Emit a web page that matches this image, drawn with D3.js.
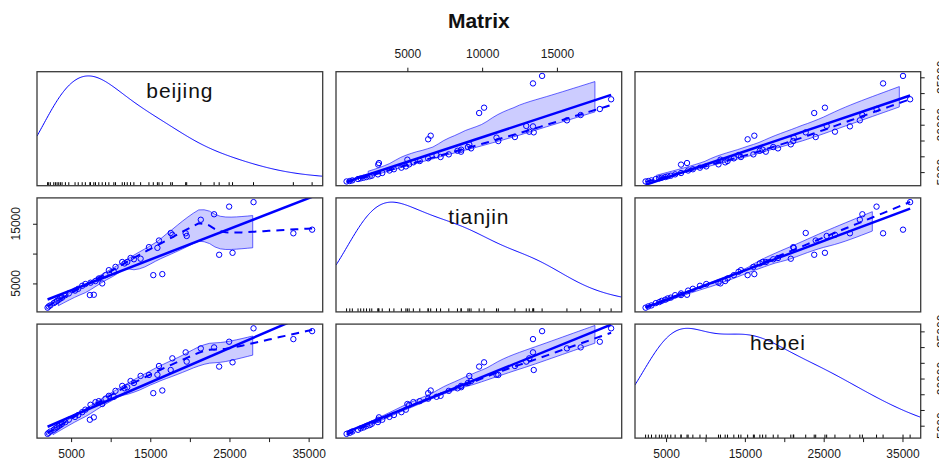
<!DOCTYPE html>
<html>
<head>
<meta charset="utf-8">
<title>Matrix</title>
<script src="https://cdn.jsdelivr.net/npm/d3@7"></script>
<style>
  body { margin: 0; background: #fff; }
  svg text { font-family: "Liberation Sans", Arial, sans-serif; }
</style>
</head>
<body>
<div class="matrix"></div>
<script>
const varNames = ["beijing", "tianjin", "hebei"];

const beijing = [2030, 2170, 2380, 2810, 3020, 3230, 3440, 3650, 3860, 4280, 4710, 5500, 5900, 6400, 6800,
  7370, 7450, 7870, 8080, 8500, 8930, 9350, 9770, 10400, 10610, 11460, 11750, 12090, 12510, 12930,
  13780, 14830, 15380, 15900, 16100, 16520, 17580, 17790, 19470, 19600, 21380, 23060, 23700, 24960,
  25390, 28040, 33070, 35440];
const tianjin = [935, 1150, 1320, 1700, 1880, 2080, 2270, 2480, 2620, 3030, 3320, 3800, 4100, 4600, 4900,
  3050, 5120, 3100, 5400, 5830, 5000, 6390, 7220, 6950, 7770, 8590, 8350, 8600, 9260, 9050,
  9140, 11080, 6390, 10960, 12190, 6560, 13450, 13150, 13400, 12950, 15670, 16590, 9800, 17870,
  10130, 18625, 13400, 14010];
const hebei = [2400, 2750, 3150, 3700, 4150, 4450, 4900, 5200, 5600, 6150, 6900, 7800, 8400, 9300, 10100,
  6900, 11650, 7660, 12500, 12800, 11900, 13600, 14500, 14200, 16080, 17660, 16900, 17250, 19200, 18600,
  20830, 21140, 15350, 21200, 23990, 16200, 22720, 26430, 28330, 25380, 29590, 29910, 23800, 31710,
  25160, 35970, 32540, 35070];

const beijingTicks = [5000, 10000, 15000, 20000, 25000, 30000, 35000];
const tianjinTicks = [5000, 10000, 15000];
const hebeiTicks = [5000, 10000, 15000, 20000, 25000, 30000, 35000];

document.addEventListener("DOMContentLoaded", drawMatrix);

function drawMatrix() {
  const width = 939, height = 461;
  const panelW = 285.7, panelH = 114, gapX = 13.3, gapY = 12.2;
  const left = 37, top = 71.7;
  const blue = "#0000ff";
  const span = 0.6;

  const columns = [beijing, tianjin, hebei];
  const ticks = [beijingTicks, tianjinTicks, hebeiTicks];

  const padded = v => {
    const [lo, hi] = d3.extent(v), r = hi - lo;
    return [lo - 0.04 * r, hi + 0.04 * r];
  };
  const xScales = columns.map(v => d3.scaleLinear().domain(padded(v)).range([0, panelW]));
  const yScales = columns.map(v => d3.scaleLinear().domain(padded(v)).range([panelH, 0]));
  const px = j => left + j * (panelW + gapX);
  const py = i => top + i * (panelH + gapY);

  const svg = d3.select(".matrix").append("svg")
    .attr("width", width)
    .attr("height", height);

  svg.append("defs").append("clipPath").attr("id", "panel-clip")
    .append("rect").attr("width", panelW).attr("height", panelH);

  svg.append("text")
    .attr("x", left + (3 * panelW + 2 * gapX) / 2)
    .attr("y", 28)
    .attr("text-anchor", "middle")
    .attr("font-size", 21)
    .attr("font-weight", "bold")
    .attr("fill", "#111")
    .text("Matrix");

  for (let i = 0; i < 3; i++) {
    for (let j = 0; j < 3; j++) {
      const g = svg.append("g").attr("transform", `translate(${px(j)},${py(i)})`);
      const inner = g.append("g").attr("clip-path", "url(#panel-clip)");
      if (i === j) drawDensity(inner, g, columns[i], xScales[i], varNames[i]);
      else drawScatter(inner, columns[j], columns[i], xScales[j], yScales[i]);
      g.append("rect")
        .attr("width", panelW).attr("height", panelH)
        .attr("fill", "none").attr("stroke", "#3a3a3a").attr("stroke-width", 1.3);
    }
  }

  // axes alternate sides like R pairs()
  horizontalAxis(svg.append("g").attr("transform", `translate(${px(0)},${py(2) + panelH})`), xScales[0], ticks[0], "bottom");
  horizontalAxis(svg.append("g").attr("transform", `translate(${px(2)},${py(2) + panelH})`), xScales[2], ticks[2], "bottom");
  horizontalAxis(svg.append("g").attr("transform", `translate(${px(1)},${py(0)})`), xScales[1], ticks[1], "top");
  verticalAxis(svg.append("g").attr("transform", `translate(${px(0)},${py(1)})`), yScales[1], ticks[1], "left");
  verticalAxis(svg.append("g").attr("transform", `translate(${px(2) + panelW},${py(0)})`), yScales[0], ticks[0], "right");
  verticalAxis(svg.append("g").attr("transform", `translate(${px(2) + panelW},${py(2)})`), yScales[2], ticks[2], "right");

  function horizontalAxis(g, scale, values, orient) {
    const axis = (orient === "bottom" ? d3.axisBottom(scale) : d3.axisTop(scale))
      .tickValues(values).tickSize(4).tickPadding(orient === "bottom" ? 7.5 : 9.5)
      .tickFormat(d3.format("d"));
    g.call(axis);
    g.select(".domain").remove();
    g.attr("font-size", 12).attr("font-family", null).attr("color", "#1a1a1a");
    let lastEnd = -Infinity;
    g.selectAll(".tick text").each(function(d) {
      const w = this.getComputedTextLength(), x = scale(d);
      if (x - w / 2 < lastEnd + 10) d3.select(this).remove();
      else lastEnd = x + w / 2;
    });
  }

  function verticalAxis(g, scale, values, side) {
    const axis = (side === "left" ? d3.axisLeft(scale) : d3.axisRight(scale))
      .tickValues(values).tickSize(4).tickFormat(() => "");
    g.call(axis);
    g.select(".domain").remove();
    g.attr("color", "#1a1a1a");
    const off = side === "left" ? -17 : 25.5;
    let lastEnd = -Infinity;
    values.forEach(v => {
      const y = scale(v);
      const t = g.append("text")
        .attr("transform", `translate(${off},${y}) rotate(-90)`)
        .attr("text-anchor", "middle")
        .attr("font-size", 12)
        .attr("fill", "#1a1a1a")
        .text(v);
      const w = t.node().getComputedTextLength();
      if (-y - w / 2 < lastEnd + 10) t.remove();
      else lastEnd = -y + w / 2;
    });
  }

  function drawDensity(g, frame, values, x, name) {
    const [lo, hi] = x.domain();
    const grid = d3.range(301).map(k => lo + (hi - lo) * k / 300);
    const dens = adaptiveDensity(values, grid);
    const maxD = d3.max(dens, d => d[1]);
    const y = d3.scaleLinear().domain([-0.04 * maxD, 1.04 * maxD]).range([panelH, 0]);

    g.append("path")
      .datum(dens)
      .attr("d", d3.line().x(d => x(d[0])).y(d => y(d[1])))
      .attr("fill", "none")
      .attr("stroke", blue)
      .attr("stroke-width", 1);

    g.append("g").selectAll("line")
      .data(values)
      .enter()
      .append("line")
      .attr("x1", d => x(d)).attr("x2", d => x(d))
      .attr("y1", panelH).attr("y2", panelH - 3.5)
      .attr("stroke", "#000");

    frame.append("text")
      .attr("x", panelW / 2)
      .attr("y", 26)
      .attr("text-anchor", "middle")
      .attr("font-size", 21)
      .attr("letter-spacing", 0.9)
      .attr("fill", "#111")
      .text(name);
  }

  function drawScatter(g, xs, ys, x, y) {
    const n = xs.length;
    const order = d3.range(n).sort((a, b) => xs[a] - xs[b]);
    const sx = order.map(k => xs[k]), sy = order.map(k => ys[k]);

    const fit = loess(sx, sy, span, 1, 4);
    const posX = [], posY = [], negX = [], negY = [];
    sy.forEach((v, k) => {
      const r = v - fit.fitted[k];
      if (r > 0) { posX.push(sx[k]); posY.push(r * r); }
      else { negX.push(sx[k]); negY.push(r * r); }
    });
    const ones = a => a.map(() => 1);
    const grid = d3.range(50).map(k => sx[0] + (sx[n - 1] - sx[0]) * k / 49);
    const smooth = grid.map(v => [v, fit.predict(v)]);

    const bLo = Math.max(posX[0], negX[0]);
    const bHi = Math.min(posX[posX.length - 1], negX[negX.length - 1]);
    const bandGrid = grid.filter(v => v >= bLo && v <= bHi);
    const upper = bandGrid.map(v => [v, fit.predict(v) + Math.sqrt(Math.max(0, localFit(posX, posY, ones(posX), v, span, 0)))]);
    const lower = bandGrid.map(v => [v, fit.predict(v) - Math.sqrt(Math.max(0, localFit(negX, negY, ones(negX), v, span, 0)))]);

    const line = d3.line().x(d => x(d[0])).y(d => y(d[1]));

    g.append("g").selectAll("circle")
      .data(d3.range(n))
      .enter()
      .append("circle")
      .attr("cx", k => x(xs[k]))
      .attr("cy", k => y(ys[k]))
      .attr("r", 2.7)
      .attr("fill", "none")
      .attr("stroke", blue)
      .attr("stroke-width", 1);

    if (bandGrid.length > 1) {
      g.append("path")
        .attr("d", line(upper.concat(lower.slice().reverse())) + "Z")
        .attr("fill", "rgba(0,0,255,0.2)")
        .attr("stroke", "rgba(0,0,255,0.75)")
        .attr("stroke-width", 0.8);
    }

    const mx = d3.mean(xs), my = d3.mean(ys);
    const slope = d3.sum(xs, (v, k) => (v - mx) * (ys[k] - my)) / d3.sum(xs, v => (v - mx) * (v - mx));
    const reg = [sx[0], sx[n - 1]].map(v => [v, my + slope * (v - mx)]);
    g.append("path")
      .attr("d", line(reg))
      .attr("fill", "none")
      .attr("stroke", blue)
      .attr("stroke-width", 2.5);

    g.append("path")
      .attr("d", line(smooth))
      .attr("fill", "none")
      .attr("stroke", blue)
      .attr("stroke-width", 2)
      .attr("stroke-dasharray", "8,6");
  }
}

function localFit(xs, ys, rw, x0, span, degree) {
  const n = xs.length;
  const q = Math.max(2, Math.min(n, Math.floor(n * span)));
  const d = xs.map(v => Math.abs(v - x0));
  let h = d.slice().sort((a, b) => a - b)[q - 1] * 1.000001;
  if (!(h > 0)) h = 1e-6;
  let sw = 0, s1 = 0, s2 = 0, s11 = 0, s12 = 0;
  for (let k = 0; k < n; k++) {
    const u = d[k] / h;
    if (u >= 1) continue;
    const w = Math.pow(1 - u * u * u, 3) * rw[k];
    sw += w; s1 += w * xs[k]; s2 += w * ys[k];
    s11 += w * xs[k] * xs[k]; s12 += w * xs[k] * ys[k];
  }
  if (sw === 0) return NaN;
  const mx = s1 / sw, my = s2 / sw;
  if (degree === 0) return my;
  const vxx = s11 / sw - mx * mx;
  if (vxx <= 1e-9) return my;
  return my + (s12 / sw - mx * my) / vxx * (x0 - mx);
}

function loess(xs, ys, span, degree, iterations) {
  let rw = xs.map(() => 1);
  let fitted;
  for (let it = 0; it < iterations; it++) {
    fitted = xs.map(v => localFit(xs, ys, rw, v, span, degree));
    if (it < iterations - 1) {
      const res = ys.map((v, k) => v - fitted[k]);
      const s = d3.median(res.map(Math.abs)) || 1;
      rw = res.map(r => {
        const u = r / (6 * s);
        return Math.abs(u) < 1 ? Math.pow(1 - u * u, 2) : 0;
      });
    }
  }
  return { fitted, predict: v => localFit(xs, ys, rw, v, span, degree) };
}

function bwNrd0(x) {
  const sorted = x.slice().sort(d3.ascending);
  const iqr = d3.quantile(sorted, 0.75) - d3.quantile(sorted, 0.25);
  const lo = Math.min(d3.deviation(x), iqr / 1.34);
  return 0.9 * lo * Math.pow(x.length, -0.2);
}

function adaptiveDensity(x, grid) {
  const h = bwNrd0(x), n = x.length;
  const gauss = u => Math.exp(-0.5 * u * u) / Math.sqrt(2 * Math.PI);
  const pilot = x.map(xi => d3.sum(x, xj => gauss((xi - xj) / h)) / (n * h));
  const g = Math.exp(d3.mean(pilot, p => Math.log(p)));
  const f = pilot.map(p => Math.pow(p / g, -0.5));
  return grid.map(x0 => [x0, d3.sum(x, (xj, k) => gauss((x0 - xj) / (f[k] * h)) / (f[k] * h)) / n]);
}
</script>
</body>
</html>
